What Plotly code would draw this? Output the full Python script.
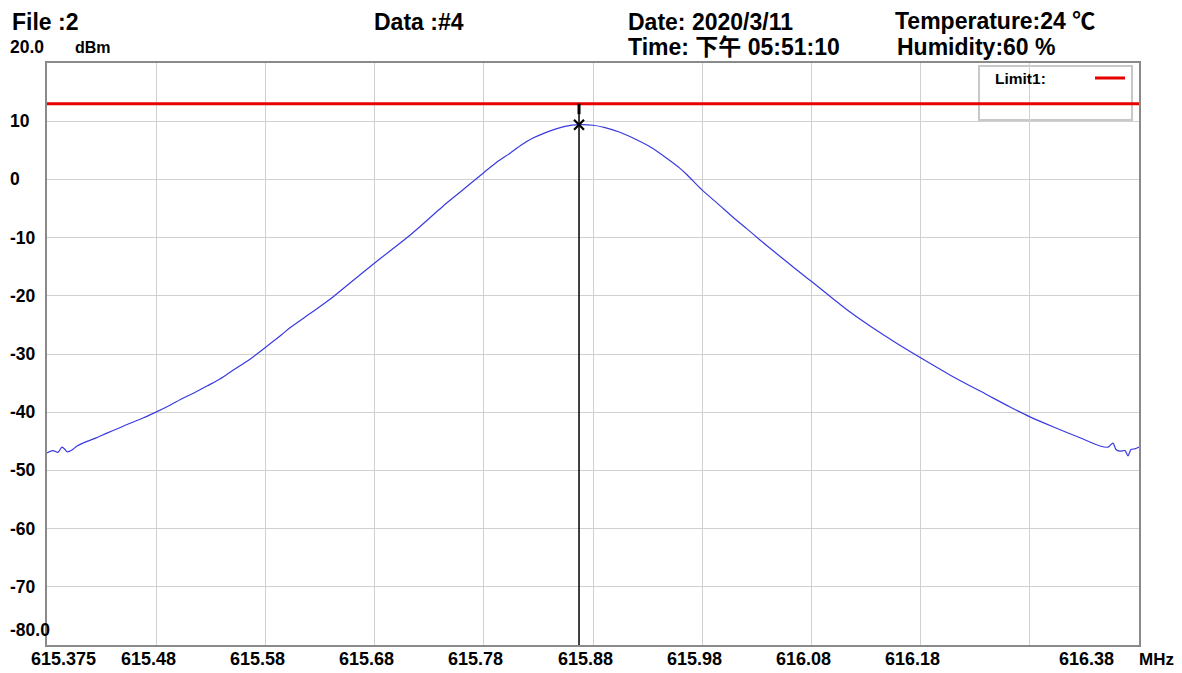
import plotly.graph_objects as go

# ---------------- data ----------------
freq_mhz = [
    615.3750, 615.3805, 615.3851, 615.3887, 615.3915, 615.3933, 615.3979, 615.4025,
    615.4080, 615.4190, 615.4299, 615.4400, 615.4510, 615.4629, 615.4757, 615.4876,
    615.4995, 615.5105, 615.5215, 615.5334, 615.5453, 615.5609, 615.5755, 615.5884,
    615.5975, 615.6186, 615.6369, 615.6525, 615.6708, 615.6891, 615.7074, 615.7257,
    615.7376, 615.7532, 615.7752, 615.7871, 615.7990, 615.8100, 615.8201, 615.8310,
    615.8384, 615.8494, 615.8622, 615.8750, 615.8860, 615.8997, 615.9116, 615.9272,
    615.9428, 615.9547, 615.9611, 615.9748, 615.9895, 616.0032, 616.0160, 616.0279,
    616.0408, 616.0527, 616.0646, 616.0755, 616.0948, 616.1104, 616.1287, 616.1534,
    616.1754, 616.2047, 616.2358, 616.2569, 616.2752, 616.2962, 616.3210, 616.3393,
    616.3466, 616.3512, 616.3539, 616.3576, 616.3622, 616.3649, 616.3677, 616.3713,
    616.3750,
]
level_dbm = [
    -47.0, -46.6, -46.9, -46.0, -46.4, -46.8, -46.5, -45.8,
    -45.3, -44.5, -43.6, -42.8, -41.9, -41.0, -39.9, -38.8,
    -37.6, -36.6, -35.5, -34.3, -32.8, -30.9, -28.8, -26.9,
    -25.5, -22.7, -20.2, -17.8, -15.0, -12.3, -9.6, -6.6,
    -4.6, -2.2, 1.2, 3.0, 4.5, 6.0, 7.1, 8.0,
    8.5, 9.1, 9.4, 9.3, 8.9, 8.1, 7.1, 5.6,
    3.6, 1.9, 0.8, -1.8, -4.2, -6.5, -8.5, -10.4,
    -12.4, -14.2, -16.0, -17.6, -20.5, -22.8, -25.2, -28.2,
    -30.7, -33.9, -37.0, -39.1, -40.8, -42.5, -44.4, -45.8,
    -46.0, -45.3, -46.4, -46.7, -46.6, -47.5, -46.4, -46.3,
    -46.0,
]

start_freq = 615.375
stop_freq = 616.375
grid_freqs = [615.475, 615.575, 615.675, 615.775, 615.875, 615.975, 616.075, 616.175, 616.275]
x_tick_labels = ["615.48", "615.58", "615.68", "615.78", "615.88", "615.98", "616.08", "616.18", ""]
ref_level = 20.0
bottom_level = -80.0
y_grid_vals = [-70, -60, -50, -40, -30, -20, -10, 0, 10]
y_tick_labels = ["-70", "-60", "-50", "-40", "-30", "-20", "-10", "0", "10"]
limit_level = 13.0
marker_freq = 615.8622
marker_level = 9.4

header_texts = {
    "file": "File :2",
    "data": "Data :#4",
    "date": "Date: 2020/3/11",
    "time": "Time: 下午 05:51:10",
    "temp": "Temperature:24 ℃",
    "hum": "Humidity:60 %",
}

# ---------------- figure ----------------
FONT = "Liberation Sans, Arial, Noto Sans CJK SC, sans-serif"
# page body has an 8px margin: the figure is shrunk so that the plot lands
# where the reference has it inside the 1182x673 window
W, H = 1174, 665
L, T = 39, 55
PW, PH = 1092, 582
R, B = W - L - PW, H - T - PH


def px2paper_x(px):  # reference window pixel -> paper
    return (px - 47) / PW


def py2paper_y(py):
    return (645 - py) / PH


fig = go.Figure()

# white legend box (between grid and traces)
fig.add_shape(type="rect", xref="paper", yref="paper",
              x0=px2paper_x(979), x1=px2paper_x(1132), y0=py2paper_y(120), y1=py2paper_y(66),
              line=dict(color="#c8c8c8", width=2), fillcolor="white", layer="between")

# spectrum trace
fig.add_trace(go.Scatter(x=freq_mhz, y=level_dbm, mode="lines",
                         line=dict(color="#3a3ae0", width=1.2, shape="spline", smoothing=0.8),
                         showlegend=False, hoverinfo="x+y"))

# limit line
fig.add_trace(go.Scatter(x=[start_freq, stop_freq], y=[limit_level, limit_level], mode="lines",
                         line=dict(color="#e60000", width=3), showlegend=False))

# marker vertical line
fig.add_trace(go.Scatter(x=[marker_freq, marker_freq], y=[bottom_level, limit_level], mode="lines",
                         line=dict(color="black", width=1.5), showlegend=False))
fig.add_trace(go.Scatter(x=[marker_freq, marker_freq], y=[limit_level, marker_level + 1.8], mode="lines",
                         line=dict(color="black", width=3), showlegend=False))
fig.add_trace(go.Scatter(x=[marker_freq], y=[marker_level], mode="markers",
                         marker=dict(symbol="x-thin-open", size=10, color="black",
                                     line=dict(color="black", width=2.2)),
                         showlegend=False))

# legend sample
fig.add_shape(type="line", xref="paper", yref="paper",
              x0=px2paper_x(1095), x1=px2paper_x(1125), y0=py2paper_y(78), y1=py2paper_y(78),
              line=dict(color="#e60000", width=3), layer="above")

ann = []
ann.append(dict(text="Limit1:", xref="paper", yref="paper", x=px2paper_x(993), y=py2paper_y(78),
                xanchor="left", yanchor="middle", showarrow=False,
                font=dict(family=FONT, size=15.5, color="black", weight="bold")))

# header texts
hdr = [
    ("file", 10, 22), ("data", 372, 22), ("date", 626, 22), ("temp", 893, 21),
    ("time", 626, 47), ("hum", 895, 47),
]
for key, px, py in hdr:
    ann.append(dict(text=header_texts[key], xref="paper", yref="paper",
                    x=px2paper_x(px), y=py2paper_y(py), xanchor="left", yanchor="middle",
                    showarrow=False, font=dict(family=FONT, size=23, color="black", weight="bold")))

# y labels
YF = dict(family=FONT, size=17.5, color="black", weight="bold")
ann.append(dict(text="20.0", xref="paper", yref="y", x=px2paper_x(8), y=ref_level, yshift=16,
                xanchor="left", yanchor="middle", showarrow=False, font=YF))
ann.append(dict(text="dBm", xref="paper", yref="y", x=px2paper_x(73), y=ref_level, yshift=16,
                xanchor="left", yanchor="middle", showarrow=False,
                font=dict(family=FONT, size=16, color="black", weight="bold")))
for v, t in zip(y_grid_vals, y_tick_labels):
    ann.append(dict(text=t, xref="paper", yref="y", x=px2paper_x(8), y=v,
                    xanchor="left", yanchor="middle", showarrow=False, font=YF))
ann.append(dict(text="-80.0", xref="paper", yref="y", x=px2paper_x(8), y=bottom_level, yshift=15,
                xanchor="left", yanchor="middle", showarrow=False, font=YF))

# x labels
XF = dict(family=FONT, size=18, color="black", weight="bold")
for f, t in zip(grid_freqs, x_tick_labels):
    if t:
        ann.append(dict(text=t, xref="x", yref="paper", x=f, y=0, xshift=-8, yshift=-14,
                        xanchor="center", yanchor="middle", showarrow=False, font=XF))
ann.append(dict(text="615.375", xref="x", yref="paper", x=start_freq, y=0, xshift=16, yshift=-14,
                xanchor="center", yanchor="middle", showarrow=False, font=XF))
ann.append(dict(text="616.38", xref="x", yref="paper", x=stop_freq, y=0, xshift=-53, yshift=-14,
                xanchor="center", yanchor="middle", showarrow=False, font=XF))
ann.append(dict(text="MHz", xref="paper", yref="paper", x=px2paper_x(1156), y=0, yshift=-14,
                xanchor="center", yanchor="middle", showarrow=False,
                font=dict(family=FONT, size=17, color="black", weight="bold")))

fig.update_layout(
    width=W, height=H,
    margin=dict(l=L, r=R, t=T, b=B, pad=0),
    paper_bgcolor="white", plot_bgcolor="white",
    annotations=ann,
    showlegend=False,
    xaxis=dict(range=[start_freq, stop_freq], tickvals=grid_freqs, showticklabels=False,
               showgrid=True, gridcolor="#d0d0d0", gridwidth=1, zeroline=False,
               showline=True, linecolor="#8a8a8a", linewidth=2, mirror=True, ticks=""),
    yaxis=dict(range=[bottom_level, ref_level], tickvals=y_grid_vals, showticklabels=False,
               showgrid=True, gridcolor="#d0d0d0", gridwidth=1, zeroline=False,
               showline=True, linecolor="#8a8a8a", linewidth=2, mirror=True, ticks=""),
)

fig.write_html("out.html")
